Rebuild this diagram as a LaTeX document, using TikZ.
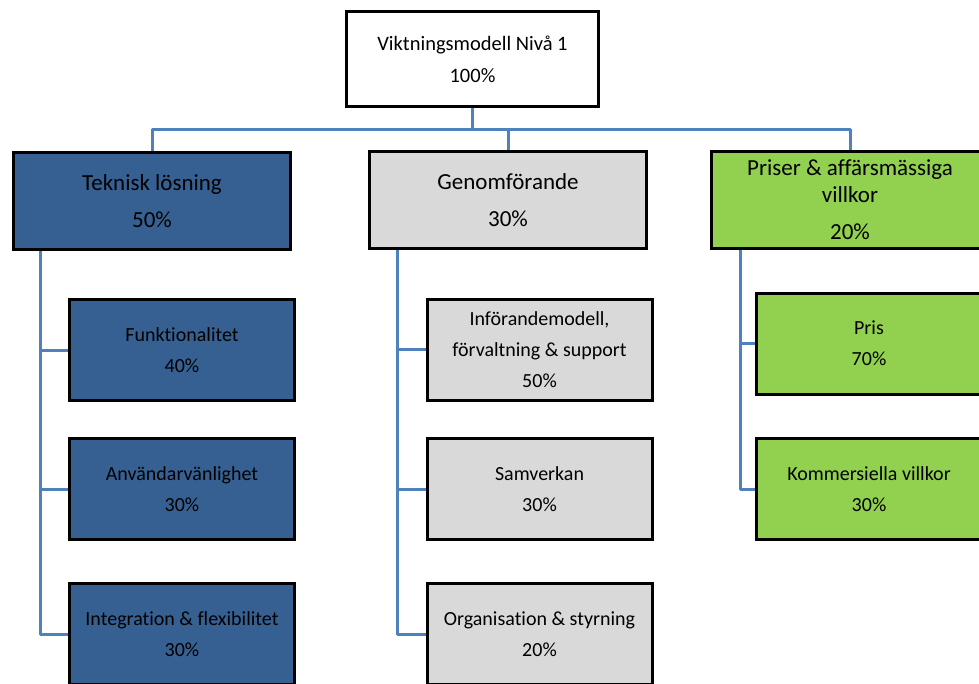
\documentclass[tikz,border=0pt]{standalone}
\usepackage{fontspec}
\setmainfont{Carlito}[Ligatures=NoCommon]
\usepackage{xcolor}
\usepackage{tikz}
\usetikzlibrary{positioning, backgrounds}

\definecolor{tekblue}{HTML}{376092}
\definecolor{gengray}{HTML}{D9D9D9}
\definecolor{prigreen}{HTML}{92D050}
\definecolor{linkblue}{HTML}{4F81BD}

\tikzset{
    box/.style={draw=black, line width=3pt, align=center, inner sep=0pt, text=black},
    topbox/.style={box, fill=white, minimum width=252pt, minimum height=95pt, font=\fontsize{20.5}{32}\selectfont},
    mainbox/.style={box, minimum width=277pt, minimum height=97pt, font=\fontsize{23}{37}\selectfont},
    subbox/.style={box, minimum width=225pt, minimum height=101pt, font=\fontsize{20}{31}\selectfont},
    link/.style={draw=linkblue, line width=3pt, line join=round}
}

\begin{document}
\begin{tikzpicture}[x=1pt, y=-1pt]
                \useasboundingbox (0,0) rectangle (979,683);
                \clip (0,0) rectangle (979,683);

                % top level
                \node[topbox] (root) at (472.5,59) {Viktningsmodell Nivå 1\\100\%};

                % level 1
                \node[mainbox, fill=tekblue] (tek) at (152,201) {Teknisk lösning\\50\%};
                \node[mainbox, fill=gengray] (gen) at (508,200) {Genomförande\\30\%};
                \node[mainbox, fill=prigreen] (pri) at (850,200) {Priser \& affärsmässiga\\[-10pt]villkor\\20\%};

                % level 2
                \node[subbox, fill=tekblue] (fun) at (182,350) {Funktionalitet\\40\%};
                \node[subbox, fill=tekblue] (anv) at (182,489) {Användarvänlighet\\30\%};
                \node[subbox, fill=tekblue] (int) at (182,634) {Integration \& flexibilitet\\30\%};

                \node[subbox, fill=gengray] (inf) at (539.5,349.5) {Införandemodell,\\förvaltning \& support\\50\%};
                \node[subbox, fill=gengray] (sam) at (539.5,489) {Samverkan\\30\%};
                \node[subbox, fill=gengray] (org) at (539.5,634) {Organisation \& styrning\\20\%};

                \node[subbox, fill=prigreen] (pris) at (869,343.5) {Pris\\70\%};
                \node[subbox, fill=prigreen] (kom) at (869,489) {Kommersiella villkor\\30\%};

                \coordinate (bus) at (472.5,129);
                \coordinate (lsp) at (40,0);
                \coordinate (msp) at (397,0);
                \coordinate (rsp) at (740,0);

                \begin{scope}[on background layer]
                    \draw[link] (root.south) -- (bus);
                    \draw[link] (tek.north) |- (bus) -| (pri.north);
                    \draw[link] (gen.north |- bus) -- (gen.north);

                    \draw[link] (tek.south -| lsp) |- (int.west);
                    \draw[link] (lsp |- fun) -- (fun.west);
                    \draw[link] (lsp |- anv) -- (anv.west);

                    \draw[link] (gen.south -| msp) |- (org.west);
                    \draw[link] (msp |- inf) -- (inf.west);
                    \draw[link] (msp |- sam) -- (sam.west);

                    \draw[link] (pri.south -| rsp) |- (kom.west);
                    \draw[link] (rsp |- pris) -- (pris.west);
                \end{scope}

            \end{tikzpicture}
\end{document}
